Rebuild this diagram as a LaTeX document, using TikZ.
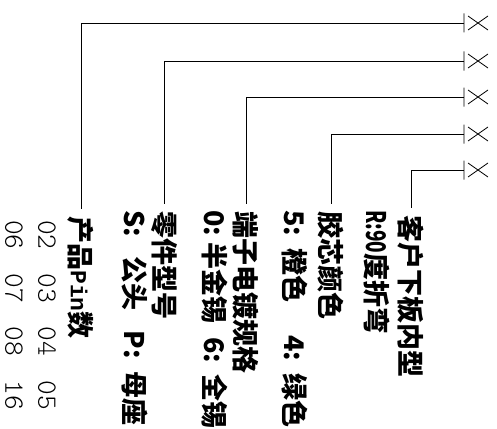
\documentclass[tikz,border=0pt]{standalone}
\usepackage{fontspec}
\usepackage{graphicx}
\newfontfamily\cjk{Noto Sans CJK SC}
\newfontfamily\pinfont{Liberation Mono}
\newfontfamily\numfont{lmmonolt10-regular.otf}
\newcommand\numgap{\hspace{24pt}}
\usetikzlibrary{positioning}

\begin{document}
\begin{tikzpicture}[x=1pt,y=-1pt]
\tikzset{lbl/.style={rotate=-90,anchor=west,inner sep=0pt,font=\cjk\bfseries\fontsize{27}{27}\selectfont}}
\tikzset{num/.style={rotate=-90,anchor=west,inner sep=0pt,font=\numfont\fontsize{28}{28}\selectfont}}
\tikzset{wire/.style={line width=0.8pt,shorten >=7pt}}
\useasboundingbox (0,0) rectangle (497,428);

% pin ends
\foreach \n/\y in {1/23,2/61,3/97,4/134,5/170}{
  \coordinate (pin\n) at (464,\y);
  \draw[line width=0.8pt] (464,\y-9.5) -- (464,\y+9.5)
     (468,\y-7) -- (488,\y+7) (468,\y+7) -- (488,\y-7);
}

% labels
\node[lbl] (cust) at (411,215) {客户下板内型};
\node[lbl] (custsub) at (377,210) {\scalebox{.7}[1]{R:90}度折弯};
\node[lbl] (color) at (331,211) {胶芯颜色};
\node[lbl] (colorsub) at (295,210) {5:\hspace{12pt}橙色\hspace{33pt}4:\hspace{12pt}绿色};
\node[lbl] (plate) at (246,211) {端子电镀规格};
\node[lbl] (platesub) at (215,210) {0:\hspace{6pt}半金锡\hspace{14pt}6:\hspace{11pt}全锡};
\node[lbl] (part) at (164,211) {零件型号};
\node[lbl] (partsub) at (135,210) {S:\hspace{20pt}公头\hspace{20pt}P:\hspace{13pt}母座};
\node[lbl] (pins) at (81,216) {产品{\pinfont\bfseries\fontsize{23}{23}\selectfont Pin}数};
\node[num] (pinsA) at (47,220) {02\numgap03\numgap04\numgap05};
\node[num] (pinsB) at (14,220) {06\numgap07\numgap08\numgap16};

% wires
\draw[wire] (pin1) -| (pins.west);
\draw[wire] (pin2) -| (part.west);
\draw[wire] (pin3) -| (plate.west);
\draw[wire] (pin4) -| (color.west);
\draw[wire] (pin5) -| (cust.west);
\end{tikzpicture}
\end{document}
